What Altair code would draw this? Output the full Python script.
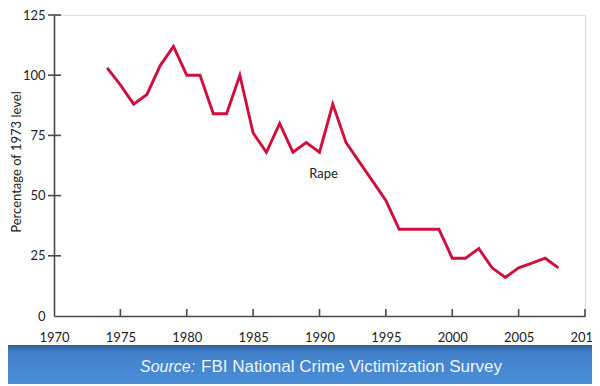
import altair as alt
import pandas as pd

years = list(range(1974, 2009))
values = [103, 96, 88, 92, 104, 112, 100, 100, 84, 84, 100, 76, 68, 80, 68, 72, 68, 88, 72,
          64, 56, 48, 36, 36, 36, 36, 24, 24, 28, 20, 16, 20, 22, 24, 20]
x_ticks = [1970, 1975, 1980, 1985, 1990, 1995, 2000, 2005, 2010]
y_ticks = [0, 25, 50, 75, 100, 125]
series_label = "Rape"
source_italic = "Source:"
source_rest = "FBI National Crime Victimization Survey"

df = pd.DataFrame({"year": years, "value": values})

W, H = 531, 301
PADL, PADT, PADR, PADB = 46, 7, 7, 68

AXIS = "#4a4a4a"
FONT = "Lato"

xs = alt.Scale(domain=[1970, 2010])
ys = alt.Scale(domain=[0, 125])

line = alt.Chart(df).mark_line(color="#cf0f3c", strokeWidth=2.9, strokeJoin="miter").encode(
    x=alt.X("year:Q", scale=xs,
            axis=alt.Axis(values=x_ticks, format="d", title=None, ticks=False, tickSize=0,
                          grid=False, labelFlush=False, domainColor=AXIS, domainWidth=1.6,
                          labelFont=FONT, labelFontSize=13, labelColor="#222",
                          labelPadding=15)),
    y=alt.Y("value:Q", scale=ys,
            axis=alt.Axis(values=y_ticks, title="Percentage of 1973 level", grid=False,
                          domainColor=AXIS, domainWidth=1.6, ticks=False, tickSize=0,
                          labelFont=FONT, labelFontSize=13, labelColor="#222",
                          labelPadding=9, titleFont=FONT, titleFontSize=13,
                          titleFontWeight="normal", titleColor="#222",
                          titleX=-31, titleY=H / 2 - 4, titleBaseline="bottom")),
)

# ticks crossing the axes / pointing inward
xt = pd.DataFrame({"year": x_ticks[1:]})
xtick = alt.Chart(xt).mark_rule(color=AXIS, strokeWidth=1.6).encode(
    x=alt.X("year:Q", scale=xs), y=alt.value(H), y2=alt.value(H - 7))
yt = pd.DataFrame({"value": y_ticks[1:]})
ytick = alt.Chart(yt).mark_rule(color=AXIS, strokeWidth=1.6).encode(
    y=alt.Y("value:Q", scale=ys), x=alt.value(-6), x2=alt.value(7))

lab = alt.Chart(pd.DataFrame({"year": [1990.3], "value": [59], "t": [series_label]})).mark_text(
    font=FONT, fontSize=13, color="#222").encode(
    x=alt.X("year:Q", scale=xs), y=alt.Y("value:Q", scale=ys), text="t:N")

band = alt.Chart(pd.DataFrame({"a": [0]})).mark_rect(
    fill=alt.LinearGradient(gradient="linear", x1=0, x2=0, y1=0, y2=1,
                            stops=[alt.GradientStop(offset=0, color="#2f5d99"),
                                   alt.GradientStop(offset=0.18, color="#4281ca"),
                                   alt.GradientStop(offset=1, color="#4b8fd9")])).encode(
    x=alt.value(-PADL), x2=alt.value(W + PADR + 10), y=alt.value(330), y2=alt.value(H + PADB + 4))

src1 = alt.Chart(pd.DataFrame({"t": [source_italic]})).mark_text(
    font="Liberation Sans", fontSize=16, fontStyle="italic", color="#eef4fb", align="left",
    baseline="alphabetic").encode(x=alt.value(140 - 8 - PADL), y=alt.value(357), text="t:N")
src2 = alt.Chart(pd.DataFrame({"t": [source_rest]})).mark_text(
    font="Liberation Sans", fontSize=17, color="#eef4fb", align="left",
    baseline="alphabetic").encode(x=alt.value(201 - 8 - PADL), y=alt.value(357), text="t:N")

chart = alt.layer(band, src1, src2, xtick, ytick, line, lab).properties(
    width=W, height=H,
    padding={"left": PADL, "top": PADT, "right": PADR, "bottom": PADB},
    autosize=alt.AutoSizeParams(type="none"),
).configure_view(stroke=None).configure(background="white")

chart.save("out.html", embed_options={"renderer": "svg", "actions": False})
